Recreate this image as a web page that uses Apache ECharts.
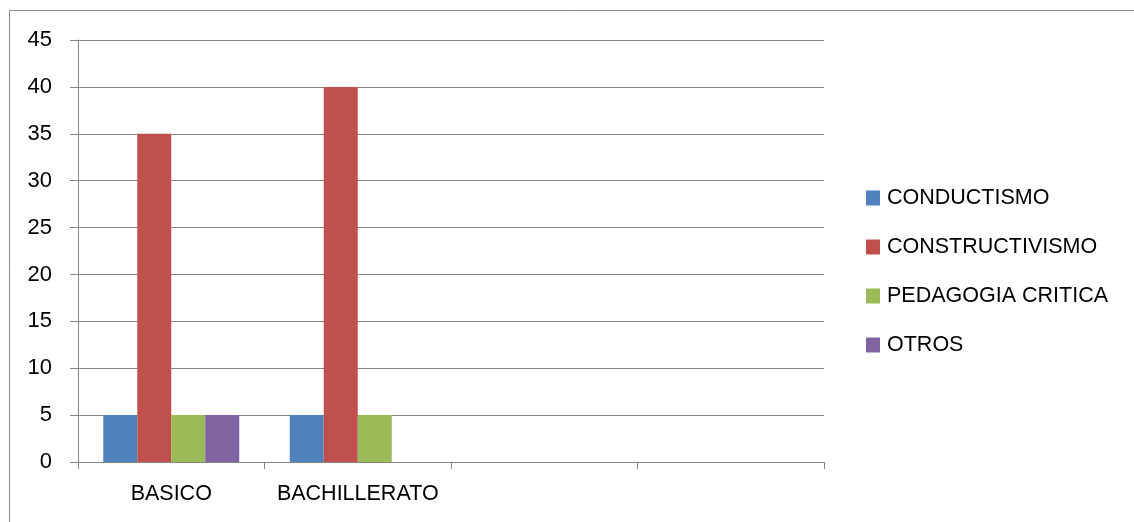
<!DOCTYPE html>
<html>
<head>
<meta charset="utf-8">
<script src="https://cdn.jsdelivr.net/npm/echarts@6/dist/echarts.min.js"></script>
<style>
html,body{margin:0;padding:0;background:#fff;}
#c{width:1134px;height:522px;}
</style>
</head>
<body>
<div id="c"></div>
<script>
const categories = ['BASICO', 'BACHILLERATO', '', ''];
const seriesNames = ['CONDUCTISMO', 'CONSTRUCTIVISMO', 'PEDAGOGIA CRITICA', 'OTROS'];
const conductismo = [5, 5, null, null];
const constructivismo = [35, 40, null, null];
const pedagogiaCritica = [5, 5, null, null];
const otros = [5, 0, null, null];
const colors = ['#4F81BD', '#C0504D', '#9BBB59', '#8064A2'];

const values = [conductismo, constructivismo, pedagogiaCritica, otros];
const font = 'Liberation Sans';
const chart = echarts.init(document.getElementById('c'), null, {renderer: 'canvas'});
chart.setOption({
  animation: false,
  backgroundColor: '#fff',
  graphic: [{
    type: 'rect',
    shape: {x: 9.5, y: 10.5, width: 1300, height: 700},
    style: {fill: 'none', stroke: '#8c8c8c', lineWidth: 1},
    silent: true
  }],
  grid: {left: 78, top: 40, right: 310, bottom: 60, containLabel: false},
  legend: {
    orient: 'vertical',
    left: 861,
    top: 182,
    padding: 5,
    itemWidth: 14,
    itemHeight: 15,
    itemGap: 27,
    icon: 'rect',
    textStyle: {fontFamily: font, fontSize: 21.5, color: '#000', lineHeight: 22, padding: [0, 0, 0, 2]},
    data: seriesNames
  },
  xAxis: {
    type: 'category',
    data: categories,
    boundaryGap: true,
    axisLine: {lineStyle: {color: '#868686', width: 1}},
    axisTick: {show: true, length: 7, alignWithLabel: false, lineStyle: {color: '#868686'}},
    axisLabel: {fontFamily: font, fontSize: 21.5, color: '#000', margin: 21, interval: 0},
    splitLine: {show: false}
  },
  yAxis: {
    type: 'value',
    min: 0, max: 45, interval: 5,
    axisLine: {show: true, lineStyle: {color: '#868686', width: 1}},
    axisTick: {show: true, length: 8, lineStyle: {color: '#868686'}},
    axisLabel: {fontFamily: font, fontSize: 22, color: '#000', margin: 26},
    splitLine: {show: true, lineStyle: {color: '#868686', width: 1}}
  },
  series: seriesNames.map((n, i) => ({
    name: n,
    type: 'bar',
    data: values[i],
    barWidth: 34,
    barGap: '0%',
    itemStyle: {color: colors[i]}
  }))
});
</script>
</body>
</html>
